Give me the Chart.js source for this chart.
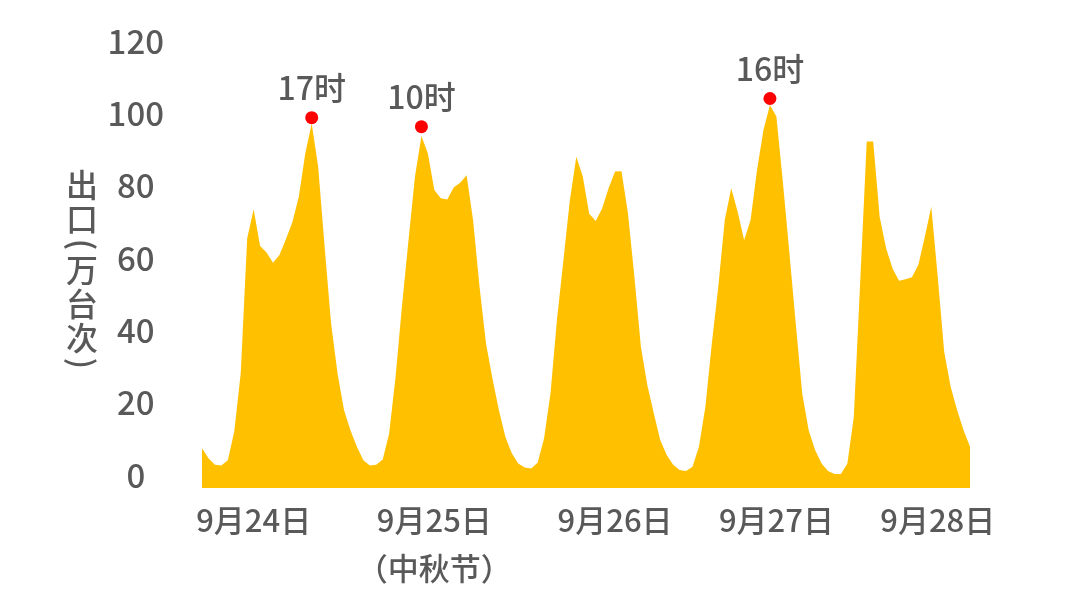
<!DOCTYPE html>
<html>
<head>
<meta charset="utf-8">
<script src="https://cdn.jsdelivr.net/npm/chart.js@4.4.1/dist/chart.umd.min.js"></script>
<style>
  html, body { margin: 0; padding: 0; background: #ffffff; }
  #wrap { width: 1080px; height: 615px; position: relative; }
</style>
</head>
<body>
<div id="wrap"><canvas id="c"></canvas></div>
<script>
// ---- data ----
const days = ['9月24日', '9月25日', '9月26日', '9月27日', '9月28日'];
const hourCategories = [];
days.forEach(d => { for (let h = 0; h < 24; h++) hourCategories.push(d + h + '时'); });

const exitValues = [
  7.4, 4.6, 2.8, 2.6, 4.1, 12.0, 28.1, 65.4, 73.5, 63.3, 61.5, 58.7,
  60.8, 65.2, 69.9, 76.9, 88.9, 97.2, 85.2, 63.1, 41.9, 28.1, 18.0, 12.4,
  7.8, 4.1, 2.6, 2.8, 4.3, 11.5, 27.2, 47.0, 65.0, 82.5, 93.7, 88.9,
  78.8, 76.5, 76.2, 79.5, 80.8, 82.9, 70.5, 52.1, 36.4, 26.7, 18.0, 10.6,
  6.0, 3.2, 2.1, 1.8, 3.4, 10.1, 22.6, 42.9, 59.4, 76.0, 88.0, 82.5,
  72.2, 70.2, 73.7, 79.3, 83.9, 84.0, 72.4, 54.8, 35.5, 24.9, 17.1, 9.7,
  5.5, 2.8, 1.4, 1.1, 2.3, 7.8, 18.9, 36.4, 52.1, 70.5, 79.3, 72.8,
  65.0, 70.5, 84.3, 95.4, 102.3, 99.1, 81.1, 61.7, 41.9, 22.6, 12.4, 6.9,
  3.2, 1.1, 0.3, 0.3, 3.2, 16.1, 53.9, 92.2, 92.2, 71.4, 62.7, 57.1,
  53.7, 54.1, 54.7, 58.1, 65.9, 74.2, 54.8, 34.1, 24.4, 18.0, 12.4, 7.8
];

const peakIndex  = [17, 34, 88];
const peakValues = [98.8, 96.3, 104.1];
const peakLabels = ['17时', '10时', '16时'];

const dayTickIndex  = [8, 36, 64, 89, 114];
const dayTickLabels = ['9月24日', ['9月25日', '（中秋节）'], '9月26日', '9月27日', '9月28日'];

const yTicks = [0, 20, 40, 60, 80, 100, 120];
const yTitle = '出口(万台次)';

// ---- styles ----
const FONT = '"Noto Sans CJK SC", "Noto Sans", sans-serif';
const GREY = '#595959';
const WEIGHT = '500';

const peakLabelPlugin = {
  id: 'peakLabels',
  afterDatasetsDraw(chart) {
    const meta = chart.getDatasetMeta(0);
    const ctx = chart.ctx;
    ctx.save();
    ctx.font = WEIGHT + ' 32px ' + FONT;
    ctx.fillStyle = GREY;
    ctx.textAlign = 'center';
    ctx.textBaseline = 'middle';
    meta.data.forEach((pt, k) => {
      ctx.fillText(peakLabels[k], pt.x, pt.y - 30);
    });
    ctx.restore();
  }
};

const verticalTitlePlugin = {
  id: 'verticalTitle',
  afterDraw(chart) {
    const ctx = chart.ctx;
    ctx.save();
    ctx.font = WEIGHT + ' 32px ' + FONT;
    ctx.fillStyle = GREY;
    ctx.textAlign = 'center';
    ctx.textBaseline = 'middle';
    const cx = 82;
    let y = 168;
    for (const ch of yTitle) {
      if (ch === '(' || ch === ')') {
        const adv = 17;
        ctx.save();
        ctx.translate(cx, y + adv / 2);
        ctx.rotate(Math.PI / 2);
        ctx.fillText(ch, 0, 0);
        ctx.restore();
        y += adv;
      } else {
        const adv = 34;
        ctx.fillText(ch, cx, y + adv / 2);
        y += adv;
      }
    }
    ctx.restore();
  }
};

new Chart(document.getElementById('c'), {
  type: 'line',
  data: {
    labels: hourCategories,
    datasets: [
      {
        label: '峰值',
        data: peakIndex.map((i, k) => ({ x: hourCategories[i], y: peakValues[k] })),
        showLine: false,
        pointRadius: 6.5,
        pointHoverRadius: 6.5,
        pointBackgroundColor: '#FF0000',
        pointBorderWidth: 0,
        borderColor: '#FF0000',
        order: 0
      },
      {
        label: '出口',
        data: exitValues,
        fill: 'start',
        backgroundColor: '#FFC000',
        borderColor: '#FFC000',
        borderWidth: 0,
        pointRadius: 0,
        tension: 0,
        order: 1
      }
    ]
  },
  options: {
    responsive: true,
    maintainAspectRatio: false,
    animation: false,
    layout: { padding: { left: 0, right: 110, top: 41, bottom: 0 } },
    plugins: {
      legend: { display: false },
      tooltip: { enabled: false }
    },
    scales: {
      x: {
        grid: { display: false, drawTicks: false },
        border: { display: false },
        ticks: {
          autoSkip: false,
          maxRotation: 0,
          minRotation: 0,
          padding: 8,
          color: GREY,
          font: { family: FONT, size: 31, weight: WEIGHT, lineHeight: 1.55 },
          callback: (val, idx) => {
            const k = dayTickIndex.indexOf(idx);
            return k >= 0 ? dayTickLabels[k] : '';
          }
        },
        afterFit: (s) => { s.height = 127; s.paddingLeft = 0; s.paddingRight = 0; }
      },
      y: {
        min: -3.6,
        max: 120,
        grid: { display: false, drawTicks: false },
        border: { display: false },
        afterBuildTicks: (s) => { s.ticks = yTicks.map(v => ({ value: v })); },
        ticks: {
          crossAlign: 'center',
          padding: 38,
          color: GREY,
          font: { family: FONT, size: 33, weight: WEIGHT }
        },
        afterFit: (s) => { s.width = 202; s.paddingTop = 0; s.paddingBottom = 0; }
      }
    }
  },
  plugins: [peakLabelPlugin, verticalTitlePlugin]
});
</script>
</body>
</html>
